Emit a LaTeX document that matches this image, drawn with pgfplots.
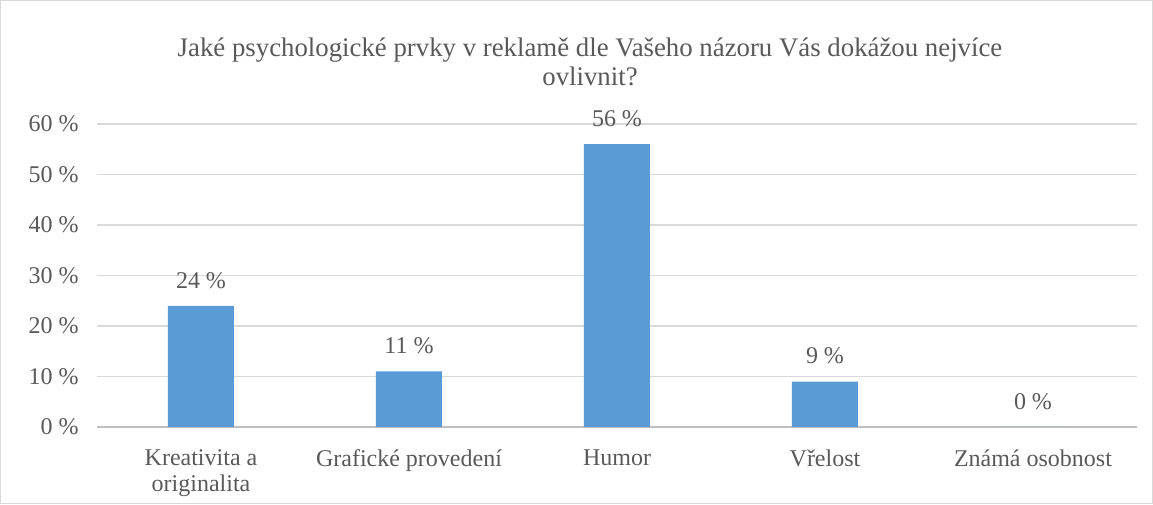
\documentclass[border=0pt]{standalone}
\usepackage{pgfplots}
\pgfplotsset{compat=1.18}
\usepackage{fontspec}
\setmainfont{Liberation Serif}
\definecolor{barblue}{HTML}{5B9BD5}
\definecolor{gridgray}{HTML}{D9D9D9}
\definecolor{axisgray}{HTML}{BFBFBF}
\definecolor{txt}{HTML}{595959}
\begin{document}
\begin{tikzpicture}
\fontsize{12}{14}\selectfont
\draw[gridgray, line width=0.6pt] (0.3pt,0.3pt) rectangle (576.2pt,251.7pt);
\node[txt, align=center, font=\fontsize{13.4}{14.5}\selectfont] at (295pt,221pt)
  {Jaké psychologické prvky v reklamě dle Vašeho názoru Vás dokážou nejvíce\\ovlivnit?};
\begin{axis}[
    at={(48.5pt,38.5pt)}, anchor=south west,
    scale only axis,
    width=520pt, height=151.5pt,
    xmin=-0.5, xmax=4.5,
    ymin=0, ymax=60,
    ytick={0,10,...,60},
    xtick={0,1,2,3,4},
    xticklabels={{Kreativita a\\originalita},{Grafické provedení},{Humor},{Vřelost},{Známá osobnost}},
    xticklabel style={align=center, text=txt, font=\fontsize{12}{13}\selectfont, yshift=-7pt},
    yticklabel={\pgfmathprintnumber{\tick}~\%},
    yticklabel style={text=txt, font=\fontsize{12}{14}\selectfont, xshift=-5pt},
    /pgf/number format/assume math mode=true,
    ymajorgrids, grid style={gridgray, line width=0.6pt},
    separate axis lines,
    axis x line*=bottom, axis y line*=left,
    x axis line style={axisgray, line width=0.6pt, -},
    y axis line style={draw=none},
    major tick length=0pt,
    tick style={draw=none},
    ybar, bar width=33pt,
    nodes near coords={\pgfmathprintnumber{\pgfplotspointmeta}~\%},
    nodes near coords style={text=txt, font=\fontsize{12}{14}\selectfont, yshift=4.5pt, /pgf/number format/assume math mode=true},
    clip=false,
]
\addplot[fill=barblue, draw=none] coordinates {(0,24) (1,11) (2,56) (3,9) (4,0)};
\end{axis}
\end{tikzpicture}
\end{document}
